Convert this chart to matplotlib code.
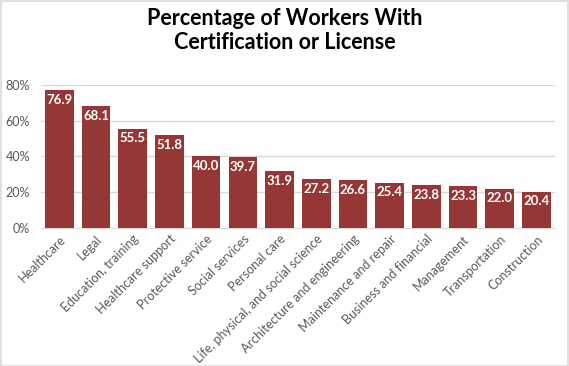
import matplotlib
matplotlib.use("Agg")
from matplotlib import pyplot as plt
from matplotlib.ticker import FuncFormatter

categories = ["Healthcare", "Legal", "Education, training", "Healthcare support",
              "Protective service", "Social services", "Personal care",
              "Life, physical, and social science", "Architecture and engineering",
              "Maintenance and repair", "Business and financial", "Management",
              "Transportation", "Construction"]
values = [76.9, 68.1, 55.5, 51.8, 40.0, 39.7, 31.9, 27.2, 26.6, 25.4, 23.8, 23.3, 22.0, 20.4]
yticks = [0, 20, 40, 60, 80]

plt.rcParams['font.family'] = ['Lato', 'DejaVu Sans']

fig = plt.figure(figsize=(5.69, 3.66), dpi=100)
fig.patches.append(plt.Rectangle((0.001, 0.001), 0.997, 0.997, transform=fig.transFigure,
                                 fill=False, edgecolor='#d9d9d9', linewidth=1.2))
ax = fig.add_axes([0.072, 0.377, 0.903, 0.391])

x = range(len(categories))
bars = ax.bar(x, values, width=0.78, color='#953735', zorder=3)
for i, v in enumerate(values):
    ax.text(i, v - 2.0, f"{v:.1f}", ha='center', va='top', color='white',
            fontsize=9.5, fontweight='bold', zorder=4)

ax.set_xlim(-0.5, len(categories) - 0.5)
ax.set_ylim(0, 80)
ax.set_yticks(yticks)
ax.yaxis.set_major_formatter(FuncFormatter(lambda v, p: f"{v:.0f}%"))
ax.grid(axis='y', color='#d9d9d9', linewidth=1, zorder=0)
for s in ['top', 'right', 'left']:
    ax.spines[s].set_visible(False)
ax.spines['bottom'].set_color('#d9d9d9')
ax.tick_params(axis='both', length=0, colors='#595959', labelsize=9)
ax.tick_params(axis='y', pad=8)
ax.set_xticks(list(x))
ax.set_xticklabels(categories, rotation=45, ha='right', rotation_mode='anchor')

fig.text(0.5, 0.917, "Percentage of Workers With\nCertification or License", ha='center',
         va='center', fontsize=15.5, fontweight='bold', linespacing=1.2)

fig.savefig("out.png", dpi=100)
